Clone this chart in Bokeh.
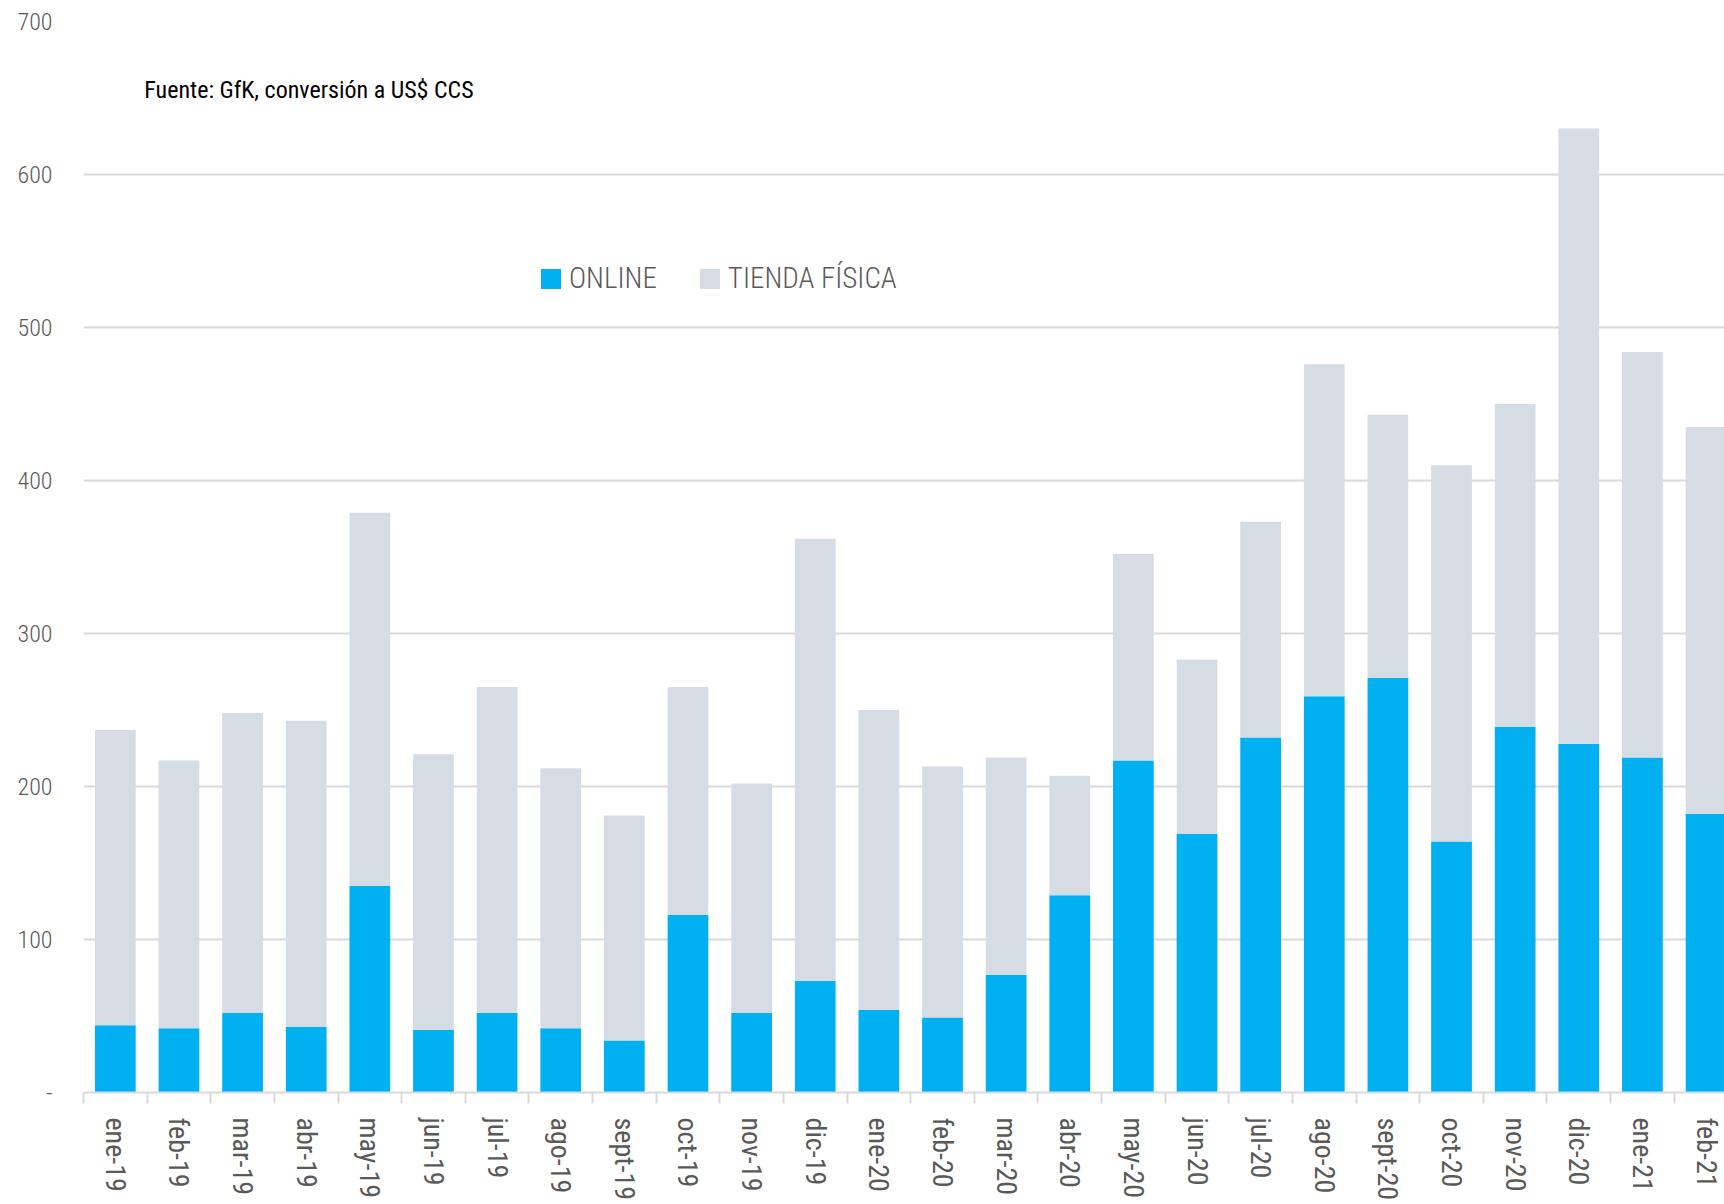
from bokeh.plotting import figure
from bokeh.models import (ColumnDataSource, Range1d, FixedTicker, Label, Legend, LegendItem)
from bokeh.embed import file_html
from bokeh.resources import INLINE

months = ["ene-19", "feb-19", "mar-19", "abr-19", "may-19", "jun-19", "jul-19", "ago-19",
          "sept-19", "oct-19", "nov-19", "dic-19", "ene-20", "feb-20", "mar-20", "abr-20",
          "may-20", "jun-20", "jul-20", "ago-20", "sept-20", "oct-20", "nov-20", "dic-20",
          "ene-21", "feb-21"]
online = [44, 42, 52, 43, 135, 41, 52, 42, 34, 116, 52, 73, 54, 49, 77, 129,
          217, 169, 232, 259, 271, 164, 239, 228, 219, 182]
tienda = [193, 175, 196, 200, 244, 180, 213, 170, 147, 149, 150, 289, 196, 164, 142, 78,
          135, 114, 141, 217, 172, 246, 211, 402, 265, 253]
y_ticks = [0, 100, 200, 300, 400, 500, 600, 700]
y_labels = ["-", "100", "200", "300", "400", "500", "600", "700"]
series_names = ["ONLINE", "TIENDA FÍSICA"]
colors = ["#00B0F0", "#D6DCE4"]
note = "Fuente: GfK, conversión a US$ CCS"

COND = "Roboto Condensed"
LIGHT = "Roboto Condensed Light, Roboto Condensed"

xs = list(range(len(months)))
total = [a + b for a, b in zip(online, tienda)]
src = ColumnDataSource(dict(x=xs, online=online, tienda=tienda, total=total))

p = figure(width=1724, height=1204, output_backend="svg", toolbar_location=None,
           x_range=Range1d(-0.5, 25.29), y_range=Range1d(0, 700),
           min_border_left=83, min_border_right=0, min_border_top=21, min_border_bottom=112)
p.outline_line_color = None
p.background_fill_color = "white"
p.border_fill_color = "white"

r1 = p.vbar(x="x", bottom=0, top="online", width=0.64, source=src,
            fill_color=colors[0], line_color=None)
r2 = p.vbar(x="x", bottom="online", top="total", width=0.64, source=src,
            fill_color=colors[1], line_color=None)

# x axis
p.xaxis.ticker = FixedTicker(ticks=xs, minor_ticks=[i - 0.5 for i in range(len(months) + 1)])
p.xaxis.major_label_overrides = {i: m for i, m in enumerate(months)}
p.xaxis.major_label_orientation = "vertical"
p.xaxis.major_tick_line_color = None
p.xaxis.major_tick_out = 0
p.xaxis.major_tick_in = 0
p.xaxis.minor_tick_line_color = "#D9D9D9"
p.xaxis.minor_tick_line_width = 2
p.xaxis.minor_tick_out = 11
p.xaxis.minor_tick_in = 0
p.xaxis.axis_line_color = "#D9D9D9"
p.xaxis.axis_line_width = 2
p.xaxis.major_label_standoff = 14
p.xaxis.major_label_text_font = COND
p.xaxis.major_label_text_font_size = "28px"
p.xaxis.major_label_text_color = "#595959"

# y axis
p.yaxis.ticker = FixedTicker(ticks=y_ticks)
p.yaxis.major_label_overrides = {t: l for t, l in zip(y_ticks, y_labels)}
p.yaxis.axis_line_color = None
p.yaxis.major_tick_line_color = None
p.yaxis.minor_tick_line_color = None
p.yaxis.major_tick_out = 0
p.yaxis.major_tick_in = 0
p.yaxis.major_label_standoff = 31
p.yaxis.major_label_text_font = LIGHT
p.yaxis.major_label_text_font_size = "24px"
p.yaxis.major_label_text_color = "#595959"

p.xgrid.grid_line_color = None
p.ygrid.grid_line_color = "#D9D9D9"
p.ygrid.grid_line_width = 2

# note
p.add_layout(Label(x=0.455, y=655.5, text=note, text_font=COND, text_font_size="24px",
                   text_color="#000000", text_baseline="alphabetic"))

legend = Legend(items=[LegendItem(label=series_names[0], renderers=[r1]),
                       LegendItem(label=series_names[1], renderers=[r2])],
                orientation="horizontal", location=(455, 797),
                border_line_color=None, background_fill_alpha=0,
                glyph_width=25, glyph_height=25, label_standoff=6, spacing=40,
                padding=0, margin=0,
                label_text_font=LIGHT, label_text_font_size="29px",
                label_text_color="#595959")
p.add_layout(legend)

open("out.html", "w").write(file_html(p, INLINE))
